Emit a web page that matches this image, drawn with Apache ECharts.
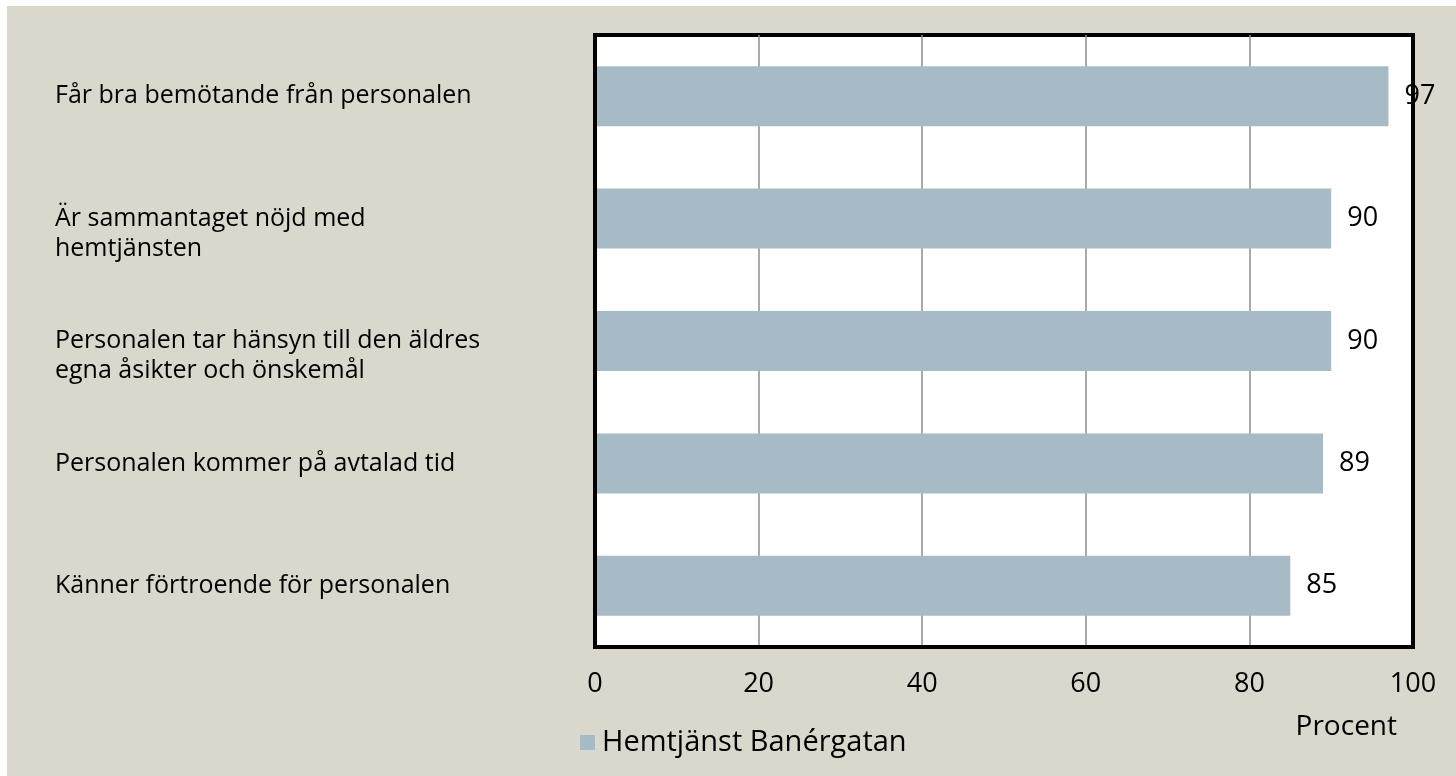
<!DOCTYPE html>
<html>
<head>
<meta charset="utf-8">
<script src="https://cdn.jsdelivr.net/npm/echarts@6/dist/echarts.min.js"></script>
<style>
  html, body { margin: 0; padding: 0; background: #ffffff; }
  #chart { position: absolute; left: 7px; top: 6px; width: 1449px; height: 770px; }
</style>
</head>
<body>
<div id="chart"></div>
<script>
const categories = [
  "Får bra bemötande från personalen",
  "Är sammantaget nöjd med\nhemtjänsten",
  "Personalen tar hänsyn till den äldres\negna åsikter och önskemål",
  "Personalen kommer på avtalad tid",
  "Känner förtroende för personalen"
];
const seriesName = "Hemtjänst Banérgatan";
const values = [97, 90, 90, 89, 85];
const axisName = "Procent";

const FONT = "'Open Sans', sans-serif";

const chart = echarts.init(document.getElementById('chart'));
chart.setOption({
  backgroundColor: '#dad8cc',
  animation: false,
  textStyle: { fontFamily: FONT, color: '#000' },
  grid: {
    left: 588, top: 29, right: 43, bottom: 129,
    outerBoundsMode: 'none', containLabel: false,
    show: true, backgroundColor: '#ffffff', borderColor: '#000000', borderWidth: 4
  },
  legend: {
    data: [seriesName],
    left: 573, top: 722, padding: 0,
    icon: 'rect', itemWidth: 15, itemHeight: 15, itemGap: 7,
    textStyle: { fontSize: 29, fontFamily: FONT, color: '#000', padding: [0, 0, 0, 2] }
  },
  xAxis: {
    type: 'value', min: 0, max: 100, interval: 20,
    axisLine: { show: true, lineStyle: { color: '#000', width: 4 } },
    axisTick: { show: false },
    splitLine: { show: true, showMinLine: false, showMaxLine: false, lineStyle: { color: '#8e8e8e', width: 1.5 } },
    axisLabel: { fontSize: 27, color: '#000', margin: 24, fontFamily: FONT },
    name: axisName, nameLocation: 'end', nameGap: 0,
    nameTextStyle: { fontSize: 28, color: '#000', align: 'right', verticalAlign: 'top', padding: [66, 16, 0, 0], fontFamily: FONT }
  },
  yAxis: {
    type: 'category', data: categories, inverse: true, z: 3,
    axisLine: { show: true, lineStyle: { color: '#000', width: 4 } },
    axisTick: { show: false }, splitLine: { show: false },
    axisLabel: {
      align: 'left', margin: 540, fontSize: 25, lineHeight: 30, color: '#000', fontFamily: FONT,
      formatter: v => (v.indexOf('\n') >= 0 ? '\n' + v : v)
    }
  },
  series: [{
    name: seriesName, type: 'bar', data: values,
    barWidth: '49%',
    itemStyle: { color: '#a7bbc6' },
    label: { show: true, position: 'right', distance: 16, fontSize: 27, color: '#000', fontFamily: FONT }
  }]
});
</script>
</body>
</html>
